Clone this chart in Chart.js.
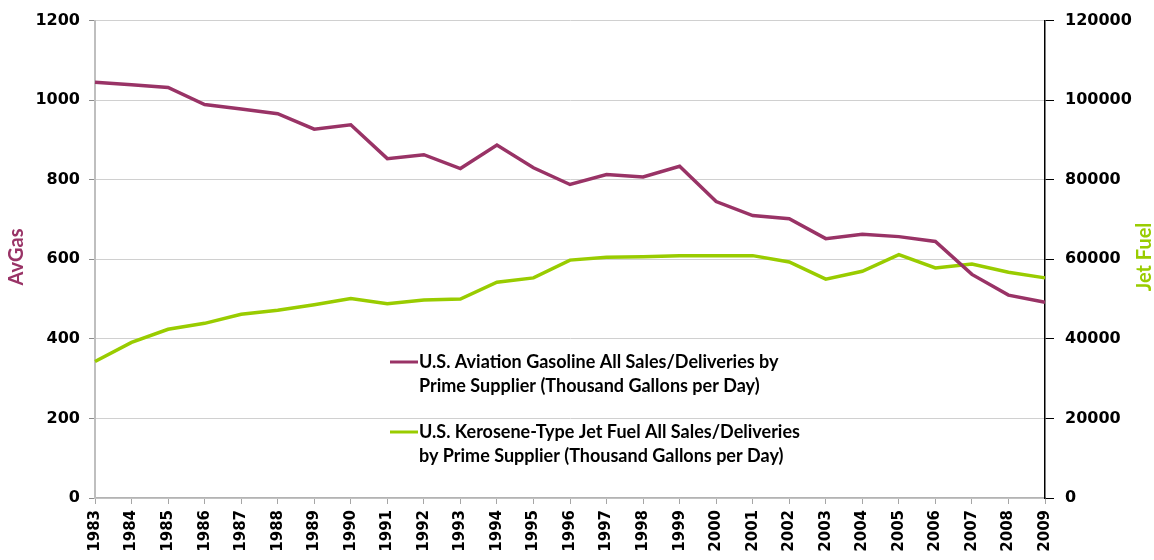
<!DOCTYPE html>
<html>
<head>
<meta charset="utf-8">
<script src="https://cdn.jsdelivr.net/npm/chart.js@4"></script>
<style>
html,body{margin:0;padding:0;background:#fff;}
</style>
</head>
<body>
<canvas id="chart" width="1154" height="560"></canvas>
<script>
var years = ['1983','1984','1985','1986','1987','1988','1989','1990','1991','1992','1993','1994','1995','1996',
             '1997','1998','1999','2000','2001','2002','2003','2004','2005','2006','2007','2008','2009'];
var avgas = [1045, 1039, 1032, 989, 978, 966, 927, 938, 853, 863, 828, 887, 830, 788,
             813, 807, 834, 745, 710, 702, 652, 663, 657, 645, 562, 510, 492];
var jetFuel = [34300, 39100, 42400, 43900, 46170, 47170, 48600, 50170, 48830, 49750, 50000, 54250, 55330, 59800,
               60500, 60670, 60920, 60920, 60920, 59330, 55000, 57000, 61170, 57830, 58830, 56750, 55330];
var avgasTicks = [0, 200, 400, 600, 800, 1000, 1200];
var jetTicks = [0, 20000, 40000, 60000, 80000, 100000, 120000];
var avgasLegend = ['U.S. Aviation Gasoline All Sales/Deliveries by', 'Prime Supplier (Thousand Gallons per Day)'];
var jetLegend = ['U.S. Kerosene-Type Jet Fuel All Sales/Deliveries', 'by Prime Supplier (Thousand Gallons per Day)'];

var purple = '#993366';
var green = '#99cc00';
var tickFont = {family: 'DejaVu Sans', weight: 'bold', size: 16};

// axis titles + two-line legend drawn on top
var overlay = {
    id: 'overlay',
    afterDraw: function(chart) {
        var ctx = chart.ctx;
        ctx.save();
        ctx.font = 'bold 20px Lato';
        ctx.textAlign = 'center';
        ctx.textBaseline = 'middle';
        [['AvGas', purple, 17], ['Jet Fuel', green, 1145]].forEach(function(t) {
            ctx.save();
            ctx.translate(t[2], 257);
            ctx.rotate(-Math.PI / 2);
            ctx.fillStyle = t[1];
            ctx.fillText(t[0], 0, 0);
            ctx.restore();
        });

        ctx.font = 'bold 18px Lato';
        ctx.textAlign = 'left';
        chart.data.datasets.forEach(function(ds, i) {
            var y = 362 + i * 70;
            ctx.strokeStyle = ds.borderColor;
            ctx.lineWidth = 3;
            ctx.beginPath();
            ctx.moveTo(390, y);
            ctx.lineTo(418, y);
            ctx.stroke();
            ctx.fillStyle = '#000';
            ds.legendLines.forEach(function(line, j) {
                ctx.fillText(line, 419, y + j * 24);
            });
        });
        ctx.restore();
    }
};

var plain = function(v) { return String(v); };

new Chart(document.getElementById('chart'), {
    type: 'line',
    data: {
        labels: years,
        datasets: [{
            label: avgasLegend.join(' '),
            legendLines: avgasLegend,
            data: avgas,
            yAxisID: 'y',
            borderColor: purple,
            borderWidth: 3.5,
            pointRadius: 0,
            tension: 0
        }, {
            label: jetLegend.join(' '),
            legendLines: jetLegend,
            data: jetFuel,
            yAxisID: 'y1',
            borderColor: green,
            borderWidth: 3.5,
            pointRadius: 0,
            tension: 0
        }]
    },
    options: {
        responsive: false,
        animation: false,
        devicePixelRatio: 1,
        layout: {padding: {top: 18, left: 0, right: 0, bottom: 0}},
        plugins: {legend: {display: false}, tooltip: {enabled: false}},
        scales: {
            x: {
                offset: false,
                afterFit: function(s) { s.height = 62; },
                grid: {drawOnChartArea: false, drawTicks: true, tickLength: 6, color: '#a6a6a6'},
                border: {color: '#b3b3b3', width: 1.5},
                ticks: {minRotation: 90, maxRotation: 90, autoSkip: false, padding: 6, color: '#000',
                        font: {family: 'DejaVu Sans', weight: 'bold', size: 15}}
            },
            y: {
                position: 'left',
                min: avgasTicks[0],
                max: avgasTicks[avgasTicks.length - 1],
                afterFit: function(s) { s.width = 95; },
                afterBuildTicks: function(s) { s.ticks = avgasTicks.map(function(v) { return {value: v}; }); },
                grid: {color: '#d0d0d0', tickColor: '#8c8c8c', tickLength: 6, lineWidth: 1},
                border: {color: '#bfbfbf', width: 2},
                ticks: {padding: 9, color: '#000', font: tickFont, callback: plain}
            },
            y1: {
                position: 'right',
                min: jetTicks[0],
                max: jetTicks[jetTicks.length - 1],
                afterFit: function(s) { s.width = 109; },
                afterBuildTicks: function(s) { s.ticks = jetTicks.map(function(v) { return {value: v}; }); },
                grid: {drawOnChartArea: false, color: '#000', tickLength: 9},
                border: {color: '#000', width: 1.5},
                ticks: {padding: 11, color: '#000', font: tickFont, callback: plain}
            }
        }
    },
    plugins: [overlay]
});
</script>
</body>
</html>
